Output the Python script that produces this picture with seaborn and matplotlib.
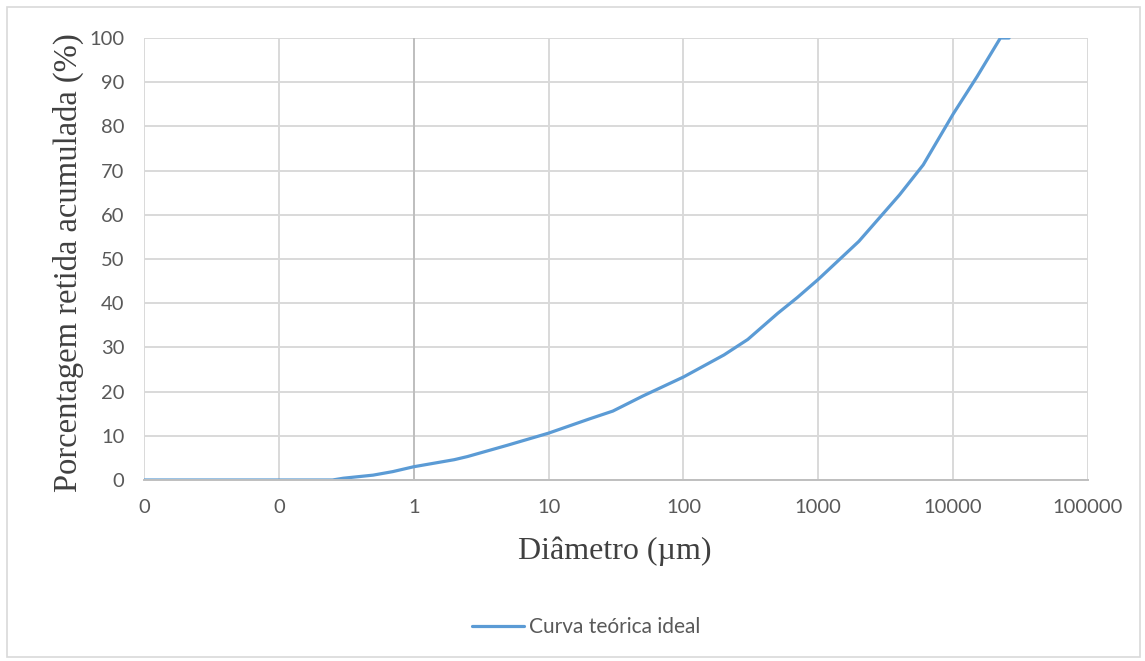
import matplotlib
matplotlib.use("Agg")
import matplotlib.pyplot as plt
import seaborn as sns
import pandas as pd
from matplotlib.patches import Rectangle

# ---- data ----
diametro_um = [0.01, 0.1, 0.2, 0.25, 0.3, 0.5, 0.7, 1, 2, 2.5, 5, 10, 20, 30,
               50, 100, 200, 300, 500, 700, 1000, 2000, 4000, 6000, 10000,
               15000, 22400, 26000]
retida_acum = [0, 0, 0, 0, 0.4, 1.1, 1.9, 3.0, 4.6, 5.3, 7.9, 10.6, 13.8, 15.6,
               19.0, 23.3, 28.3, 31.8, 37.7, 41.3, 45.4, 54.0, 64.5, 71.3, 82.8,
               91.2, 100, 100]
serie = "Curva teórica ideal"
x_ticks = [0.01, 0.1, 1, 10, 100, 1000, 10000, 100000]
x_ticklabels = ["0", "0", "1", "10", "100", "1000", "10000", "100000"]
y_ticks = [0, 10, 20, 30, 40, 50, 60, 70, 80, 90, 100]

df = pd.DataFrame({"d": diametro_um, "y": retida_acum, "serie": serie})

sns.set_theme(style="white")
plt.rcParams["font.family"] = ["Lato", "DejaVu Sans"]

W, H = 1145, 661
fig = plt.figure(figsize=(W / 100, H / 100), dpi=100)
ax = fig.add_axes([144 / W, 1 - 480 / H, (1088 - 144) / W, (480 - 38) / H])

sns.lineplot(data=df, x="d", y="y", hue="serie", palette=["#5b9bd5"],
             estimator=None, sort=False, linewidth=2.3, ax=ax, legend=True)

ax.set_xscale("log")
ax.set_xlim(0.01, 100000)
ax.set_ylim(0, 100)
ax.set_xticks(x_ticks)
ax.set_xticklabels(x_ticklabels)
ax.set_yticks(y_ticks)
ax.minorticks_off()
ax.tick_params(axis="both", length=0, labelsize=14.5, labelcolor="#595959")
ax.tick_params(axis="x", pad=14)
ax.tick_params(axis="y", pad=14)

ax.grid(True, color="#d9d9d9", linewidth=1.4)
ax.set_axisbelow(True)
for s in ["top", "right", "left"]:
    ax.spines[s].set_visible(False)
ax.spines["bottom"].set_color("#bfbfbf")
ax.spines["bottom"].set_linewidth(1.4)
ax.axvline(1, color="#bfbfbf", linewidth=1.4, zorder=1.5)

ax.set_xlabel("Diâmetro (µm)", family="Liberation Serif", fontsize=23,
              color="#404040")
ax.set_ylabel("Porcentagem retida acumulada (%)", family="Liberation Serif",
              fontsize=23.5, color="#404040")
ax.xaxis.set_label_coords((615 - 144) / (1088 - 144), -(536 - 480) / (480 - 38))
ax.yaxis.set_label_coords(-(144 - 84) / (1088 - 144), (480 - 263) / (480 - 38))

handles, labels = ax.get_legend_handles_labels()
ax.legend(handles, labels, loc="center", frameon=False,
          bbox_to_anchor=(586 / W, 1 - 627 / H), bbox_transform=fig.transFigure,
          fontsize=15, labelcolor="#595959", handlelength=2.5,
          handletextpad=0.25)

fig.patches.append(Rectangle((7 / W, 1 - 657 / H), (1140 - 7) / W, (657 - 7) / H,
                             transform=fig.transFigure, fill=False,
                             edgecolor="#d9d9d9", linewidth=1.2))

fig.savefig("out.png", dpi=100)
